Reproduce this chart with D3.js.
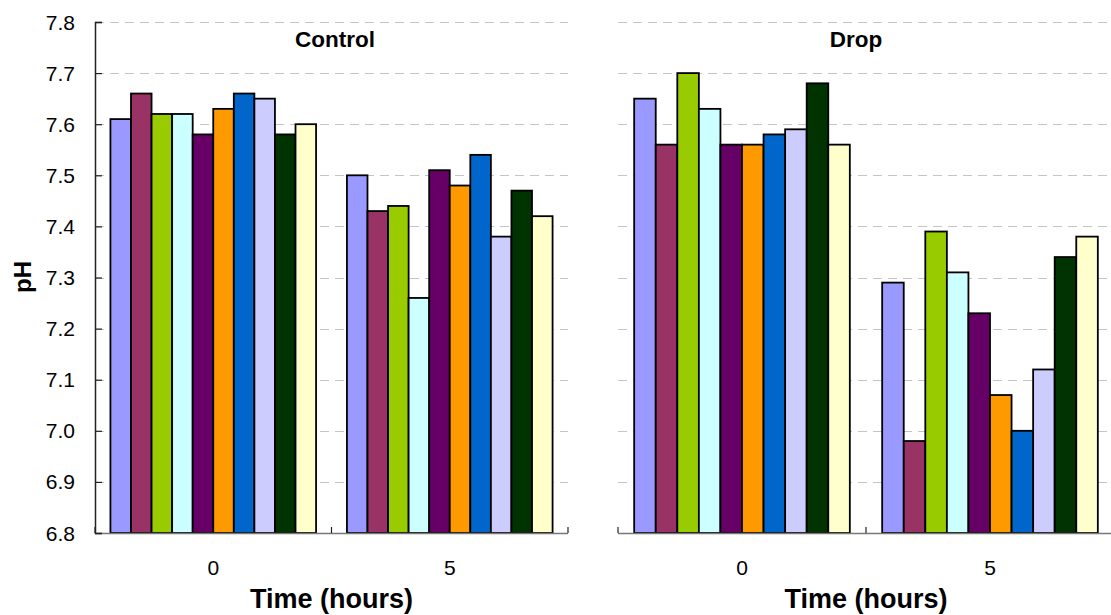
<!DOCTYPE html>
<html>
<head>
<meta charset="utf-8">
<script src="https://cdn.jsdelivr.net/npm/d3@7"></script>
<style>
  html, body { margin: 0; padding: 0; background: #fff; }
  svg { display: block; }
  text { font-family: "Liberation Sans", Arial, sans-serif; fill: #000; }
</style>
</head>
<body>
<svg id="chart" width="1111" height="615"></svg>
<script>
// ---- data ----
const times = ["0", "5"];
const seriesColors = ["#9999FF", "#993366", "#99CC00", "#CCFFFF", "#660066",
                      "#FF9900", "#0066CC", "#CCCCFF", "#003300", "#FFFFCC"];
const controlT0 = [7.61, 7.66, 7.62, 7.62, 7.58, 7.63, 7.66, 7.65, 7.58, 7.60];
const controlT5 = [7.50, 7.43, 7.44, 7.26, 7.51, 7.48, 7.54, 7.38, 7.47, 7.42];
const dropT0    = [7.65, 7.56, 7.70, 7.63, 7.56, 7.56, 7.58, 7.59, 7.68, 7.56];
const dropT5    = [7.29, 6.98, 7.39, 7.31, 7.23, 7.07, 7.00, 7.12, 7.34, 7.38];
const yTicks = [6.8, 6.9, 7.0, 7.1, 7.2, 7.3, 7.4, 7.5, 7.6, 7.7, 7.8];
const panelTitles = ["Control", "Drop"];
const xTitle = "Time (hours)";
const yTitle = "pH";

// ---- layout ----
(function () {
const svg = d3.select("#chart");
const plotTop = 22, plotBottom = 533;
const panels = [
  { title: panelTitles[0], values: [controlT0, controlT5], x0: 95,  x1: 568,  showYAxis: true,  titleX: 335 },
  { title: panelTitles[1], values: [dropT0, dropT5],       x0: 618, x1: 1114, showYAxis: false, titleX: 856 }
];

const y = d3.scaleLinear().domain([6.8, 7.8]).range([plotBottom, plotTop]);
const seriesIdx = d3.range(seriesColors.length);

panels.forEach(p => {
  const g = svg.append("g");
  const x = d3.scaleBand().domain(times).range([p.x0, p.x1]).padding(0);
  const xs = d3.scaleBand().domain(seriesIdx).range([0, x.bandwidth()])
               .paddingInner(0).paddingOuter(0.75);

  // gridlines
  g.append("g").selectAll("line")
    .data(yTicks.slice(1))
    .join("line")
    .attr("x1", p.x0).attr("x2", Math.min(p.x1, 1111))
    .attr("y1", d => Math.round(y(d)) + 0.5).attr("y2", d => Math.round(y(d)) + 0.5)
    .attr("stroke", "#c4c4c4").attr("stroke-width", 1.2)
    .attr("stroke-dasharray", "9,6");

  // bars
  times.forEach((t, ti) => {
    g.append("g").selectAll("rect")
      .data(p.values[ti])
      .join("rect")
      .attr("x", (d, i) => x(t) + xs(i))
      .attr("width", xs.bandwidth())
      .attr("y", d => y(d))
      .attr("height", d => plotBottom - y(d))
      .attr("fill", (d, i) => seriesColors[i])
      .attr("stroke", "#000").attr("stroke-width", 1.8);
  });

  // x axis line
  g.append("line")
    .attr("x1", p.x0).attr("x2", p.x1)
    .attr("y1", plotBottom + 0.5).attr("y2", plotBottom + 0.5)
    .attr("stroke", "#777").attr("stroke-width", 1.5);
  // x category boundary ticks (inward)
  const bounds = [p.x0, ...times.map(t => x(t) + x.bandwidth())];
  g.append("g").selectAll("line")
    .data(bounds)
    .join("line")
    .attr("x1", d => d).attr("x2", d => d)
    .attr("y1", plotBottom - 6).attr("y2", plotBottom)
    .attr("stroke", "#222").attr("stroke-width", 1.2);
  // x tick labels
  g.append("g").selectAll("text")
    .data(times)
    .join("text")
    .attr("x", d => x(d) + x.bandwidth() / 2)
    .attr("y", 575)
    .attr("text-anchor", "middle")
    .attr("font-size", 21)
    .text(d => d);

  // x title
  g.append("text")
    .attr("x", (p.x0 + p.x1) / 2)
    .attr("y", 608)
    .attr("text-anchor", "middle")
    .attr("font-size", 27).attr("font-weight", "bold")
    .text(xTitle);

  // panel title
  g.append("text")
    .attr("x", p.titleX)
    .attr("y", 47)
    .attr("text-anchor", "middle")
    .attr("font-size", 22.5).attr("font-weight", "bold")
    .text(p.title);

  if (p.showYAxis) {
    const axis = d3.axisRight(y).tickValues(yTicks).tickSize(7).tickFormat("");
    const ag = g.append("g").attr("transform", `translate(${p.x0},0)`).call(axis);
    ag.select(".domain").attr("stroke", "#222").attr("stroke-width", 1.5);
    ag.selectAll(".tick line").attr("stroke", "#222").attr("stroke-width", 1.2);
    g.append("g").selectAll("text")
      .data(yTicks)
      .join("text")
      .attr("x", 75)
      .attr("y", d => y(d))
      .attr("dy", "0.36em")
      .attr("text-anchor", "end")
      .attr("font-size", 21)
      .text(d => d3.format(".1f")(d));
  }
});

// y title
svg.append("text")
  .attr("transform", "translate(31,277) rotate(-90)")
  .attr("text-anchor", "middle")
  .attr("font-size", 24).attr("font-weight", "bold")
  .text(yTitle);
})();
</script>
</body>
</html>
